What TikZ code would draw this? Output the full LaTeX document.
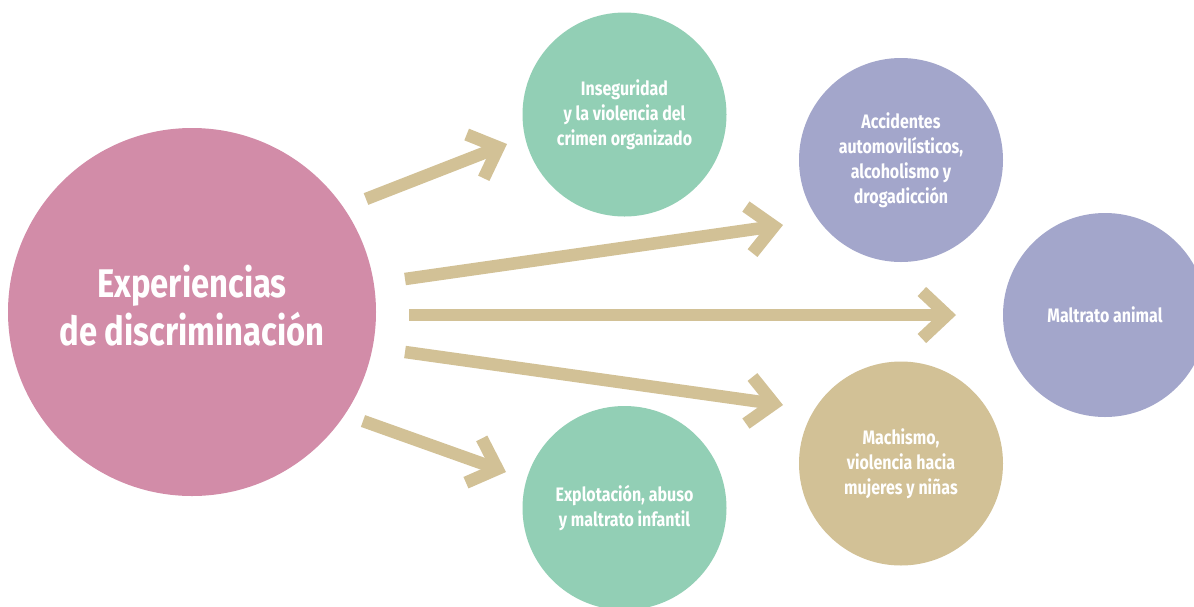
\documentclass[tikz,border=0pt]{standalone}
\usepackage{fontspec}
\newfontfamily\cf{Fira Sans}[FakeStretch=0.82]
\usetikzlibrary{arrows.meta}
\definecolor{cpink}{RGB}{210,140,168}
\definecolor{cgreen}{RGB}{146,207,181}
\definecolor{cpurple}{RGB}{163,166,203}
\definecolor{ctan}{RGB}{210,193,150}
\begin{document}
\begin{tikzpicture}[x=1pt,y=-1pt,
  bubble/.style={circle, inner sep=0pt, minimum size=204pt, text=white, align=center,
    font=\cf\bfseries\fontsize{19.5}{25}\selectfont},
  arr/.style={draw=ctan, line width=12.5pt, -{Straight Barb[length=25pt,width=47pt]}}]
\useasboundingbox (0,0) rectangle (1194,606);
\fill[white] (0,0) rectangle (1194,606);
\node[circle, inner sep=0pt, minimum size=368pt, fill=cpink, text=white,
  font=\cf\bfseries\fontsize{40}{47}\selectfont] (big) at (192,312)
  {\raisebox{6pt}{\begin{tabular}{@{}c@{}}Experiencias\\de discriminación\end{tabular}}};
\node[bubble, fill=cgreen] (g1) at (624.5,114.5) {Inseguridad\\y la violencia del\\crimen organizado};
\node[bubble, fill=cpurple] (p1) at (901,160) {Accidentes\\automovilísticos,\\alcoholismo y\\drogadicción};
\node[bubble, fill=cpurple] (p2) at (1105,315) {Maltrato animal};
\node[bubble, fill=ctan] (t1) at (901,463.5) {Machismo,\\violencia hacia\\mujeres y niñas};
\node[bubble, fill=cgreen] (g2) at (624.5,508) {Explotación, abuso\\y maltrato infantil};
\coordinate (s1) at (366,199); \coordinate (e1) at (507,144);
\coordinate (s2) at (405,279); \coordinate (e2) at (783,225);
\coordinate (s3) at (409,315); \coordinate (e3) at (956,315);
\coordinate (s4) at (405,352); \coordinate (e4) at (783,405);
\coordinate (s5) at (363,421); \coordinate (e5) at (506,472);
\draw[arr] (s1) -- (e1);
\draw[arr] (s2) -- (e2);
\draw[arr] (s3) -- (e3);
\draw[arr] (s4) -- (e4);
\draw[arr] (s5) -- (e5);
\end{tikzpicture}
\end{document}
